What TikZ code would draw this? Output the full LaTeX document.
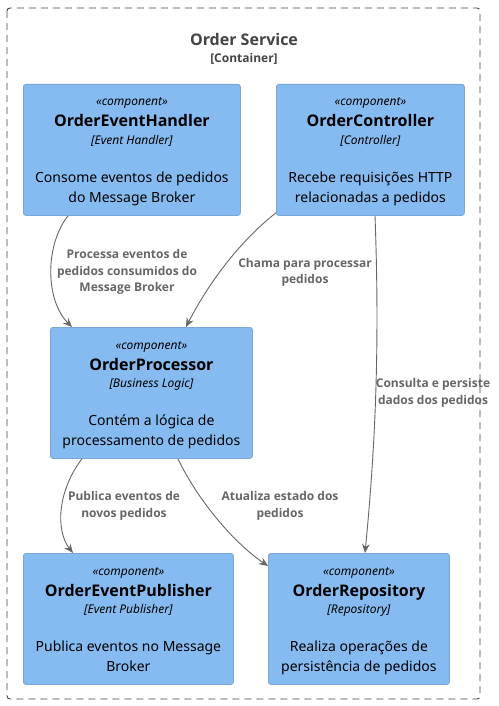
\documentclass[tikz,border=0pt]{standalone}
\usepackage{fontspec}
\setmainfont{Noto Sans}
\newfontfamily\bsans{Open Sans}
\usetikzlibrary{arrows.meta,calc}
\definecolor{compfill}{HTML}{85BBF0}
\definecolor{compline}{HTML}{78A8D8}
\definecolor{bndline}{HTML}{444444}
\definecolor{reltext}{HTML}{666666}
\definecolor{relline}{HTML}{666666}
\tikzset{
  compnode/.style={draw=compline, fill=compfill, line width=0.8pt, rounded corners=2.5pt, inner sep=0pt},
  sttext/.style={anchor=base, font=\fontsize{12}{14}\selectfont\itshape},
  nametext/.style={anchor=base, font=\fontsize{16}{19}\selectfont\bsans\bfseries},
  techtext/.style={anchor=base, font=\fontsize{12}{14}\selectfont\itshape},
  desctext/.style={anchor=base, font=\fontsize{14}{17}\selectfont},
  rellabel/.style={align=center, text=reltext, font=\fontsize{12}{16.5}\selectfont\bsans\bfseries, inner sep=0pt},
  relarrow/.style={draw=relline, line width=0.9pt, -{Stealth[length=9pt,width=7.5pt]}},
}
\newcommand\compbox[9]{%
  \node[compnode, minimum width=#4pt, minimum height=#5pt, anchor=north west] (#1) at (#2,#3) {};
  \node[sttext] (#1-st) at ($(#1.north)+(0,22)$) {«component»};
  \node[nametext] (#1-nm) at ($(#1.north)+(0,43)$) {#6};
  \node[techtext] (#1-tc) at ($(#1.north)+(0,60)$) {[#7]};
  \node[desctext] (#1-d1) at ($(#1.north)+(0,98)$) {#8};
  \node[desctext] (#1-d2) at ($(#1.north)+(0,118)$) {#9};
}
\begin{document}
\begin{tikzpicture}[x=1pt,y=-1pt]
\useasboundingbox (0,0) rectangle (498,706);
\fill[white] (0,0) rectangle (498,706);
% boundary
\draw[draw=bndline, line width=0.9pt, dash pattern=on 7pt off 5pt, rounded corners=3pt] (7,8) rectangle (480,699);
\node[text=bndline, font=\fontsize{16}{19}\selectfont\bsans\bfseries] (title) at (244,40) {Order Service};
\node[text=bndline, font=\fontsize{12}{14}\selectfont\bsans\bfseries] (ttype) at (244,59) {[Container]};
% components
\compbox{oeh}{23}{84}{217}{131}{OrderEventHandler}{Event Handler}{Consome eventos de pedidos}{do Message Broker}
\compbox{oc}{276}{84}{188}{131}{OrderController}{Controller}{Recebe requisições HTTP}{relacionadas a pedidos}
\compbox{op}{50}{327}{202}{131}{OrderProcessor}{Business Logic}{Contém a lógica de}{processamento de pedidos}
\compbox{oep}{23}{553}{210}{131}{OrderEventPublisher}{Event Publisher}{Publica eventos no Message}{Broker}
\compbox{or}{268}{553}{181}{131}{OrderRepository}{Repository}{Realiza operações de}{persistência de pedidos}
% relations
\draw[relarrow] ($(oeh.south west)+(45,0)$) .. controls (45,245) and (45,300) .. ($(op.north west)+(22,0)$);
\node[rellabel] (l1) at (127,272) {Processa eventos de\\pedidos consumidos do\\Message Broker};
\draw[relarrow] ($(oc.south west)+(0,-3)$) .. controls (235,245) and (205,290) .. ($(op.north west)+(136,0)$);
\node[rellabel] (l2) at (305,272.5) {Chama para processar\\pedidos};
\draw[relarrow] ($(oc.south west)+(99,0)$) .. controls (380,350) and (375,450) .. ($(or.north west)+(97,0)$);
\node[rellabel] (l3) at (433,393) {Consulta e persiste\\dados dos pedidos};
\draw[relarrow] ($(op.south west)+(32,0)$) .. controls (58,490) and (55,530) .. ($(oep.north west)+(50,0)$);
\node[rellabel] (l4) at (124,506) {Publica eventos de\\novos pedidos};
\draw[relarrow] ($(op.south west)+(128,0)$) .. controls (195,495) and (230,540) .. ($(or.north west)+(0,13)$);
\node[rellabel] (l5) at (280,506) {Atualiza estado dos\\pedidos};
\end{tikzpicture}
\end{document}
